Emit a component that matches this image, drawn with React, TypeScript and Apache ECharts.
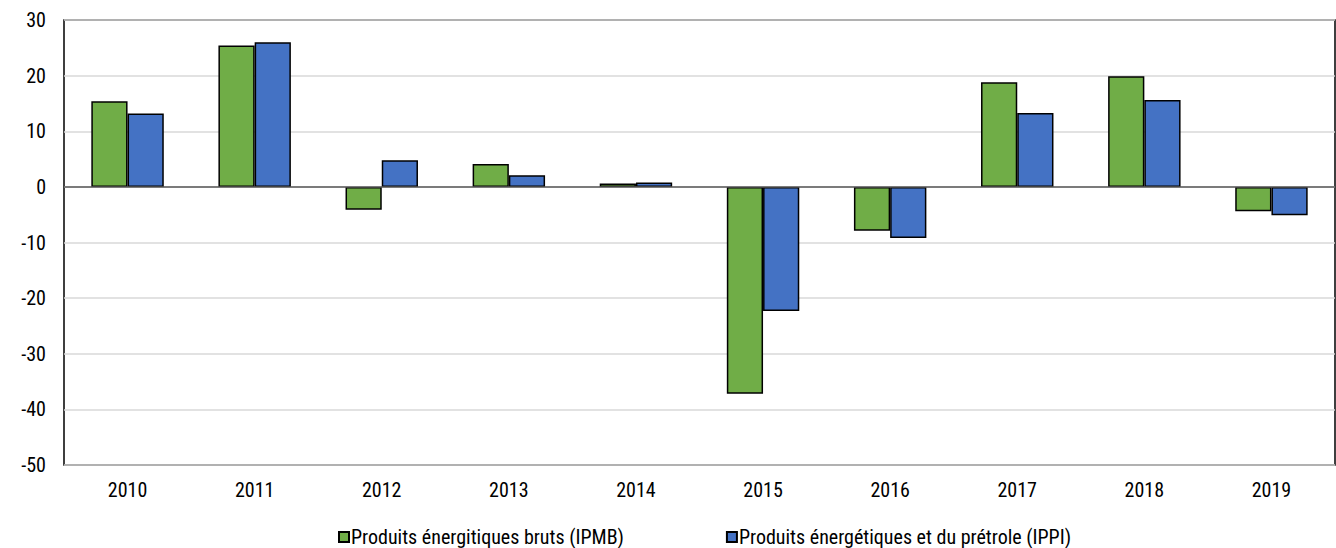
import React, { useEffect, useRef } from "react";
import * as echarts from "echarts";

const years = ["2010", "2011", "2012", "2013", "2014", "2015", "2016", "2017", "2018", "2019"];
const ipmb = [15.4, 25.4, -4.1, 4.1, 0.6, -37.2, -7.9, 18.8, 19.9, -4.4];
const ippi = [13.2, 26.0, 4.8, 2.1, 0.8, -22.3, -9.2, 13.3, 15.6, -5.1];
const seriesNames = ["Produits énergitiques bruts (IPMB)", "Produits énergétiques et du prétrole (IPPI)"];

const FONT = "'Liberation Sans Narrow', 'Roboto Condensed', Roboto, sans-serif";

export default function App() {
  const ref = useRef<HTMLDivElement>(null);
  useEffect(() => {
    if (!ref.current) return;
    const chart = echarts.init(ref.current, undefined, { renderer: "svg" });
    chart.setOption({
      animation: false,
      textStyle: { fontFamily: FONT },
      grid: { left: 64, right: 1, top: 20, bottom: 83, containLabel: false, show: true, borderColor: "#000", borderWidth: 1.5 },
      legend: {
        top: 527,
        left: 338,
        padding: 0,
        icon: "rect",
        itemWidth: 10,
        itemHeight: 10,
        itemGap: 102,
        textStyle: { fontFamily: FONT, fontSize: 20, lineHeight: 20, color: "#000", padding: [0, 0, 0, -3] },
        data: seriesNames,
      },
      xAxis: {
        type: "category",
        data: years,
        position: "bottom",
        axisLine: { show: false },
        axisTick: { show: false },
        axisLabel: { fontFamily: FONT, fontSize: 20, color: "#000", margin: 15 },
      },
      yAxis: {
        type: "value",
        min: -50,
        max: 30,
        interval: 10,
        axisLine: { show: false },
        axisTick: { show: false },
        axisLabel: { fontFamily: FONT, fontSize: 20, color: "#000", margin: 18 },
        splitLine: { lineStyle: { color: "#d9d9d9", width: 1.5 } },
      },
      series: [
        {
          name: seriesNames[0],
          type: "bar",
          data: ipmb,
          barGap: "0%",
          barCategoryGap: "43%",
          itemStyle: { color: "#70ad47", borderColor: "#000", borderWidth: 1.5 },
          markLine: {
            silent: true,
            symbol: "none",
            label: { show: false },
            lineStyle: { color: "#595959", type: "solid", width: 1.5 },
            data: [{ yAxis: 0 }],
          },
        },
        {
          name: seriesNames[1],
          type: "bar",
          data: ippi,
          barGap: "0%",
          barCategoryGap: "43%",
          itemStyle: { color: "#4472c4", borderColor: "#000", borderWidth: 1.5 },
        },
      ],
    });
    return () => chart.dispose();
  }, []);
  return <div ref={ref} style={{ width: 1336, height: 548, position: "absolute", left: 0, top: 0 }} />;
}
